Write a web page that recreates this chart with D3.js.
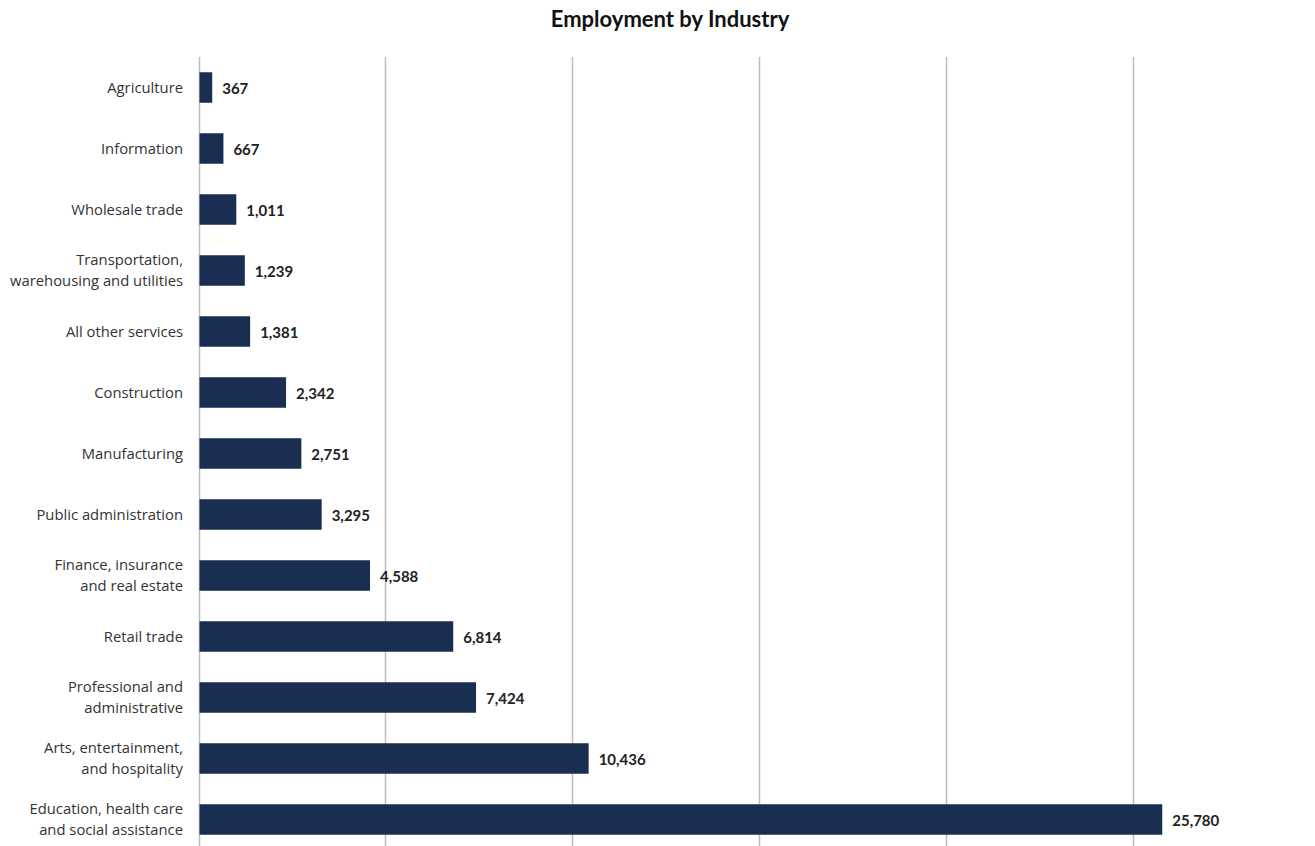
<!DOCTYPE html>
<html><head><meta charset="utf-8">
<script src="https://cdn.jsdelivr.net/npm/d3@7"></script>
<style>body{margin:0;background:#fff}svg{display:block}</style>
</head><body>
<svg id="chart" width="1315" height="846"></svg>
<script>
const categories = [
  ["Agriculture"],
  ["Information"],
  ["Wholesale trade"],
  ["Transportation,", "warehousing and utilities"],
  ["All other services"],
  ["Construction"],
  ["Manufacturing"],
  ["Public administration"],
  ["Finance, insurance", "and real estate"],
  ["Retail trade"],
  ["Professional and", "administrative"],
  ["Arts, entertainment,", "and hospitality"],
  ["Education, health care", "and social assistance"]
];
const values = [367, 667, 1011, 1239, 1381, 2342, 2751, 3295, 4588, 6814, 7424, 10436, 25780];
const gridTicks = [0, 5000, 10000, 15000, 20000, 25000];
const title = "Employment by Industry";

(function () {
const svg = d3.select("#chart");
const mLeft = 198.5, mRight = 1320, mTop = 57, mBottom = 850;
const keys = categories.map((c, i) => i);
const x = d3.scaleLinear().domain([0, 30000]).range([mLeft, mRight]);
const y = d3.scaleBand().domain(keys).range([mTop, mBottom]).paddingInner(0.5).paddingOuter(0.25);

svg.append("text").attr("x", 670).attr("y", 27).attr("text-anchor", "middle")
  .attr("font-family", "Lato, 'Open Sans', sans-serif").attr("font-weight", 700)
  .attr("font-size", 22).attr("fill", "#111").text(title);

svg.append("g").selectAll("line").data(gridTicks).join("line")
  .attr("x1", d => Math.round(x(d)) + 0.5).attr("x2", d => Math.round(x(d)) + 0.5)
  .attr("y1", mTop).attr("y2", 846)
  .attr("stroke", "#bdbdbd").attr("stroke-width", 1.5);

svg.append("g").selectAll("rect").data(values).join("rect")
  .attr("x", x(0) + 1).attr("y", (d, i) => y(i))
  .attr("width", d => x(d) - x(0) - 1).attr("height", y.bandwidth())
  .attr("fill", "#1a2e52");

svg.append("g").selectAll("text").data(values).join("text")
  .attr("x", d => x(d) + 10).attr("y", (d, i) => y(i) + y.bandwidth() / 2 + 6)
  .attr("font-family", "Lato, sans-serif").attr("font-weight", 700)
  .attr("font-size", 15).attr("fill", "#222")
  .text(d => d3.format(",")(d));

const lab = svg.append("g").selectAll("text").data(categories).join("text")
  .attr("text-anchor", "end")
  .attr("font-family", "'Open Sans', sans-serif").attr("font-size", 14.8)
  .attr("fill", "#333");
lab.each(function(lines, i) {
  const cy = y(i) + y.bandwidth() / 2;
  const n = lines.length;
  const t = d3.select(this);
  lines.forEach((s, j) => {
    t.append("tspan").attr("x", 183)
      .attr("y", cy + 5 + (j - (n - 1) / 2) * 20.5).text(s);
  });
});
})();
</script>
</body></html>
